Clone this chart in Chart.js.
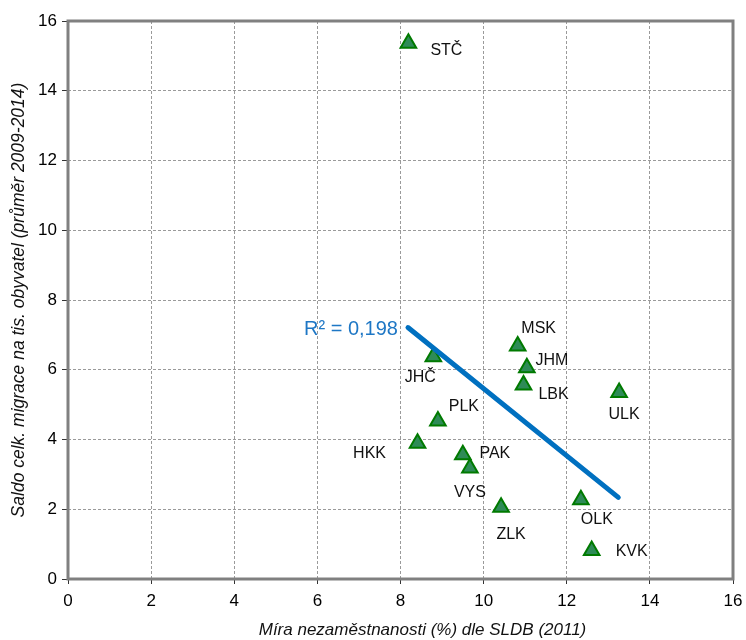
<!DOCTYPE html>
<html>
<head>
<meta charset="utf-8">
<script src="https://cdn.jsdelivr.net/npm/chart.js@4/dist/chart.umd.min.js"></script>
<style>
  html, body { margin: 0; padding: 0; background: #fff; }
  #wrap { width: 746px; height: 640px; }
</style>
</head>
<body>
<div id="wrap"><canvas id="graf"></canvas></div>
<script>
"use strict";

// data
const kraje = ["STČ", "JHČ", "MSK", "JHM", "LBK", "ULK", "PLK", "HKK", "PAK", "VYS", "ZLK", "OLK", "KVK"];
const nezamestnanost = [8.19, 8.79, 10.82, 11.04, 10.96, 13.26, 8.90, 8.41, 9.50, 9.67, 10.42, 12.34, 12.60];
const saldoMigrace = [15.36, 6.37, 6.68, 6.06, 5.56, 5.35, 4.53, 3.89, 3.56, 3.18, 2.06, 2.27, 0.82];
const trendX = [8.18, 13.24];
const trendY = [7.21, 2.34];
const r2Text = "R² = 0,198";
const xTicks = [0, 2, 4, 6, 8, 10, 12, 14, 16];
const yTicks = [0, 2, 4, 6, 8, 10, 12, 14, 16];
const xTitle = "Míra nezaměstnanosti (%) dle SLDB (2011)";
const yTitle = "Saldo celk. migrace na tis. obyvatel (průměr 2009-2014)";

// label offsets (px) from each point
const popisky = [[38, 7], [-13, 21], [21, -17], [25, -7], [30, 9], [5, 22], [26, -14], [-48, 10], [32, -1], [0, 24], [10, 27], [16, 20], [40, 1]];

const FONT = "'Liberation Sans', Arial, sans-serif";

const body = nezamestnanost.map((x, i) => ({ x: x, y: saldoMigrace[i] }));
const trend = trendX.map((x, i) => ({ x: x, y: trendY[i] }));

// ramecek kolem plochy grafu
const ramecek = {
  id: "ramecek",
  beforeDatasetsDraw(chart) {
    const a = chart.chartArea;
    const ctx = chart.ctx;
    ctx.save();
    ctx.strokeStyle = "#808080";
    ctx.lineWidth = 3;
    ctx.strokeRect(a.left, a.top, a.right - a.left, a.bottom - a.top);
    ctx.restore();
  }
};

// popisky kraju + R2 + nazev osy x
const popiskyPlugin = {
  id: "popisky",
  afterDatasetsDraw(chart) {
    const ctx = chart.ctx;
    const xs = chart.scales.x, ys = chart.scales.y;
    const a = chart.chartArea;
    ctx.save();
    ctx.font = "16px " + FONT;
    ctx.fillStyle = "#111";
    ctx.textAlign = "center";
    ctx.textBaseline = "middle";
    kraje.forEach((k, i) => {
      const px = xs.getPixelForValue(nezamestnanost[i]);
      const py = ys.getPixelForValue(saldoMigrace[i]);
      ctx.fillText(k, px + popisky[i][0], py + popisky[i][1]);
    });
    ctx.font = "italic 17px " + FONT;
    ctx.fillText(xTitle, (a.left + a.right) / 2 + 22, 630);
    ctx.font = "20px " + FONT;
    ctx.fillStyle = "#1E77C5";
    ctx.textAlign = "right";
    ctx.fillText(r2Text, xs.getPixelForValue(trendX[0]) - 10, ys.getPixelForValue(trendY[0]) + 2);
    ctx.restore();
  }
};

new Chart(document.getElementById("graf"), {
  type: "scatter",
  data: {
    datasets: [
      {
        label: "Kraje",
        data: body,
        pointStyle: "triangle",
        pointRadius: 9,
        pointBackgroundColor: "#2E8B57",
        pointBorderColor: "#007A00",
        pointBorderWidth: 2,
        order: 1
      },
      {
        label: "Trend",
        type: "line",
        data: trend,
        borderColor: "#0070C0",
        borderWidth: 5,
        borderCapStyle: "round",
        pointRadius: 0,
        fill: false,
        order: 0
      }
    ]
  },
  options: {
    responsive: true,
    maintainAspectRatio: false,
    animation: false,
    events: [],
    layout: { padding: { top: 21, right: 13, left: 0, bottom: 0 } },
    plugins: {
      legend: { display: false },
      tooltip: { enabled: false }
    },
    scales: {
      x: {
        type: "linear",
        min: 0,
        max: 16,
        afterBuildTicks: s => { s.ticks = xTicks.map(v => ({ value: v })); },
        afterFit: s => { s.height = 61; s.paddingLeft = 0; s.paddingRight = 0; },
        ticks: {
          color: "#000",
          padding: 7,
          font: { family: FONT, size: 17 }
        },
        grid: {
          color: "#9a9a9a",
          tickColor: "#333",
          tickLength: 5
        },
        border: { display: false, dash: [3, 2] }
      },
      y: {
        type: "linear",
        min: 0,
        max: 16,
        afterBuildTicks: s => { s.ticks = yTicks.map(v => ({ value: v })); },
        afterFit: s => { s.width = 68; s.paddingTop = 0; s.paddingBottom = 0; },
        ticks: {
          color: "#000",
          padding: 5,
          font: { family: FONT, size: 17 }
        },
        grid: {
          color: "#9a9a9a",
          tickColor: "#333",
          tickLength: 6
        },
        border: { display: false, dash: [3, 2] },
        title: {
          display: true,
          text: yTitle,
          color: "#111",
          padding: { top: 9, bottom: 0 },
          font: { family: FONT, size: 17.5, style: "italic" }
        }
      }
    }
  },
  plugins: [ramecek, popiskyPlugin]
});
</script>
</body>
</html>
